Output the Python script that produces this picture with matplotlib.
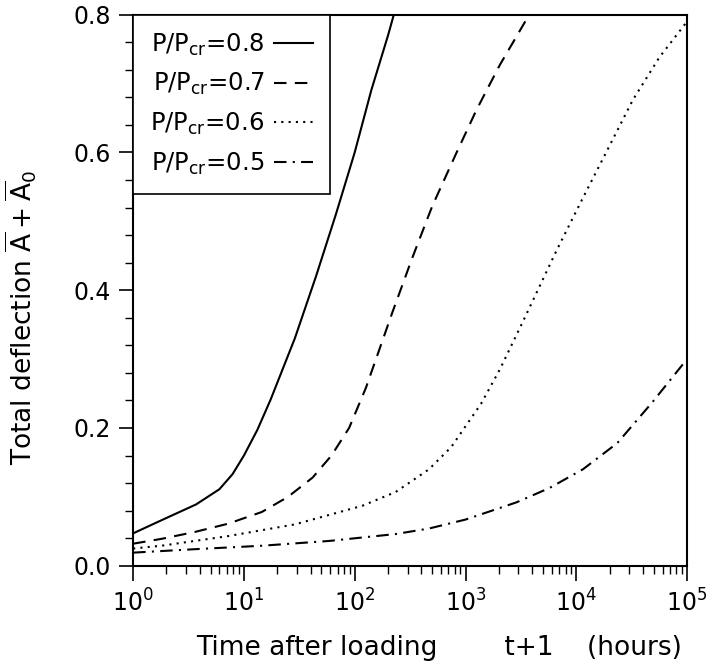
import numpy as np
import matplotlib
matplotlib.use("Agg")
import matplotlib.pyplot as plt
from matplotlib.ticker import LogLocator, MultipleLocator, FormatStrFormatter

# values (t+1 in hours, total deflection)
t_08 = [1, 1.8, 3.7, 6.0, 7.9, 10, 13.2, 17.4, 28.8, 44.7, 67.6, 100, 141, 200, 230]
a_08 = [0.047, 0.066, 0.089, 0.111, 0.133, 0.160, 0.197, 0.241, 0.330, 0.420,
        0.510, 0.600, 0.690, 0.770, 0.805]

t_07 = [1, 1.8, 3.6, 7.2, 14.5, 25, 41.7, 61.7, 89, 126, 219, 331, 501, 832,
        1259, 2042, 3548, 3981]
a_07 = [0.032, 0.039, 0.049, 0.061, 0.078, 0.100, 0.128, 0.160, 0.200, 0.258,
        0.368, 0.447, 0.522, 0.600, 0.662, 0.727, 0.793, 0.808]

t_06 = [1, 1.8, 7.2, 28.8, 117, 234, 468, 741, 1380, 2042, 3311, 6607, 11480,
        18200, 32360, 56230, 100000]
a_06 = [0.025, 0.029, 0.043, 0.060, 0.087, 0.107, 0.140, 0.172, 0.235, 0.285,
        0.355, 0.457, 0.534, 0.597, 0.676, 0.738, 0.790]

t_05 = [1, 3.6, 14.5, 59, 234, 468, 1000, 2884, 5754, 11480, 23440,
        48980, 100000]
a_05 = [0.019, 0.024, 0.029, 0.036, 0.046, 0.054, 0.067, 0.092, 0.113, 0.140,
        0.178, 0.238, 0.300]

labels = [r"P/P$_{\mathrm{cr}}$=0.8", r"P/P$_{\mathrm{cr}}$=0.7",
          r"P/P$_{\mathrm{cr}}$=0.6", r"P/P$_{\mathrm{cr}}$=0.5"]

fig = plt.figure(figsize=(7.12, 6.64), dpi=100)
ax = fig.add_axes([0.187, 0.148, 0.778, 0.830])

ax.plot(t_08, a_08, color="black", lw=1.5, ls="-", label=labels[0])
ax.plot(t_07, a_07, color="black", lw=1.5, ls=(0, (6, 4)), label=labels[1])
ax.plot(t_06, a_06, color="black", lw=1.5, ls=(0, (1, 2.5)), label=labels[2])
ax.plot(t_05, a_05, color="black", lw=1.5, ls=(0, (6, 3, 1, 3)), label=labels[3])

ax.set_xscale("log")
ax.set_xlim(1, 1e5)
ax.set_ylim(0, 0.8)

ax.xaxis.set_major_locator(LogLocator(base=10, numticks=10))
ax.xaxis.set_minor_locator(LogLocator(base=10, subs=np.arange(2, 10), numticks=20))
ax.yaxis.set_major_locator(MultipleLocator(0.2))
ax.yaxis.set_minor_locator(MultipleLocator(0.04))
ax.yaxis.set_major_formatter(FormatStrFormatter("%.1f"))

ax.tick_params(which="major", direction="out", length=10, width=1.2,
               labelsize=17, pad=6)
ax.tick_params(which="minor", direction="out", length=6, width=1.0)
ax.tick_params(axis="x", which="major", length=11)
ax.tick_params(top=False, right=False, which="both")

for s in ax.spines.values():
    s.set_linewidth(1.5)

ax.set_xlabel("Time after loading        t+1    (hours)", fontsize=19)
ax.xaxis.set_label_coords(0.552, -0.125)
ax.set_ylabel(r"Total deflection $\overline{\mathrm{A}}+\overline{\mathrm{A}}_0$",
              fontsize=19)
ax.yaxis.set_label_coords(-0.17, 0.45)

leg = ax.legend(loc="upper left", fontsize=17.5, markerfirst=False,
                handlelength=1.6, handletextpad=0.4, labelspacing=0.55,
                borderaxespad=0, borderpad=0.7, fancybox=False, framealpha=1)
leg.get_frame().set_edgecolor("black")
leg.get_frame().set_linewidth(1.2)

fig.savefig("out.png", dpi=100)
